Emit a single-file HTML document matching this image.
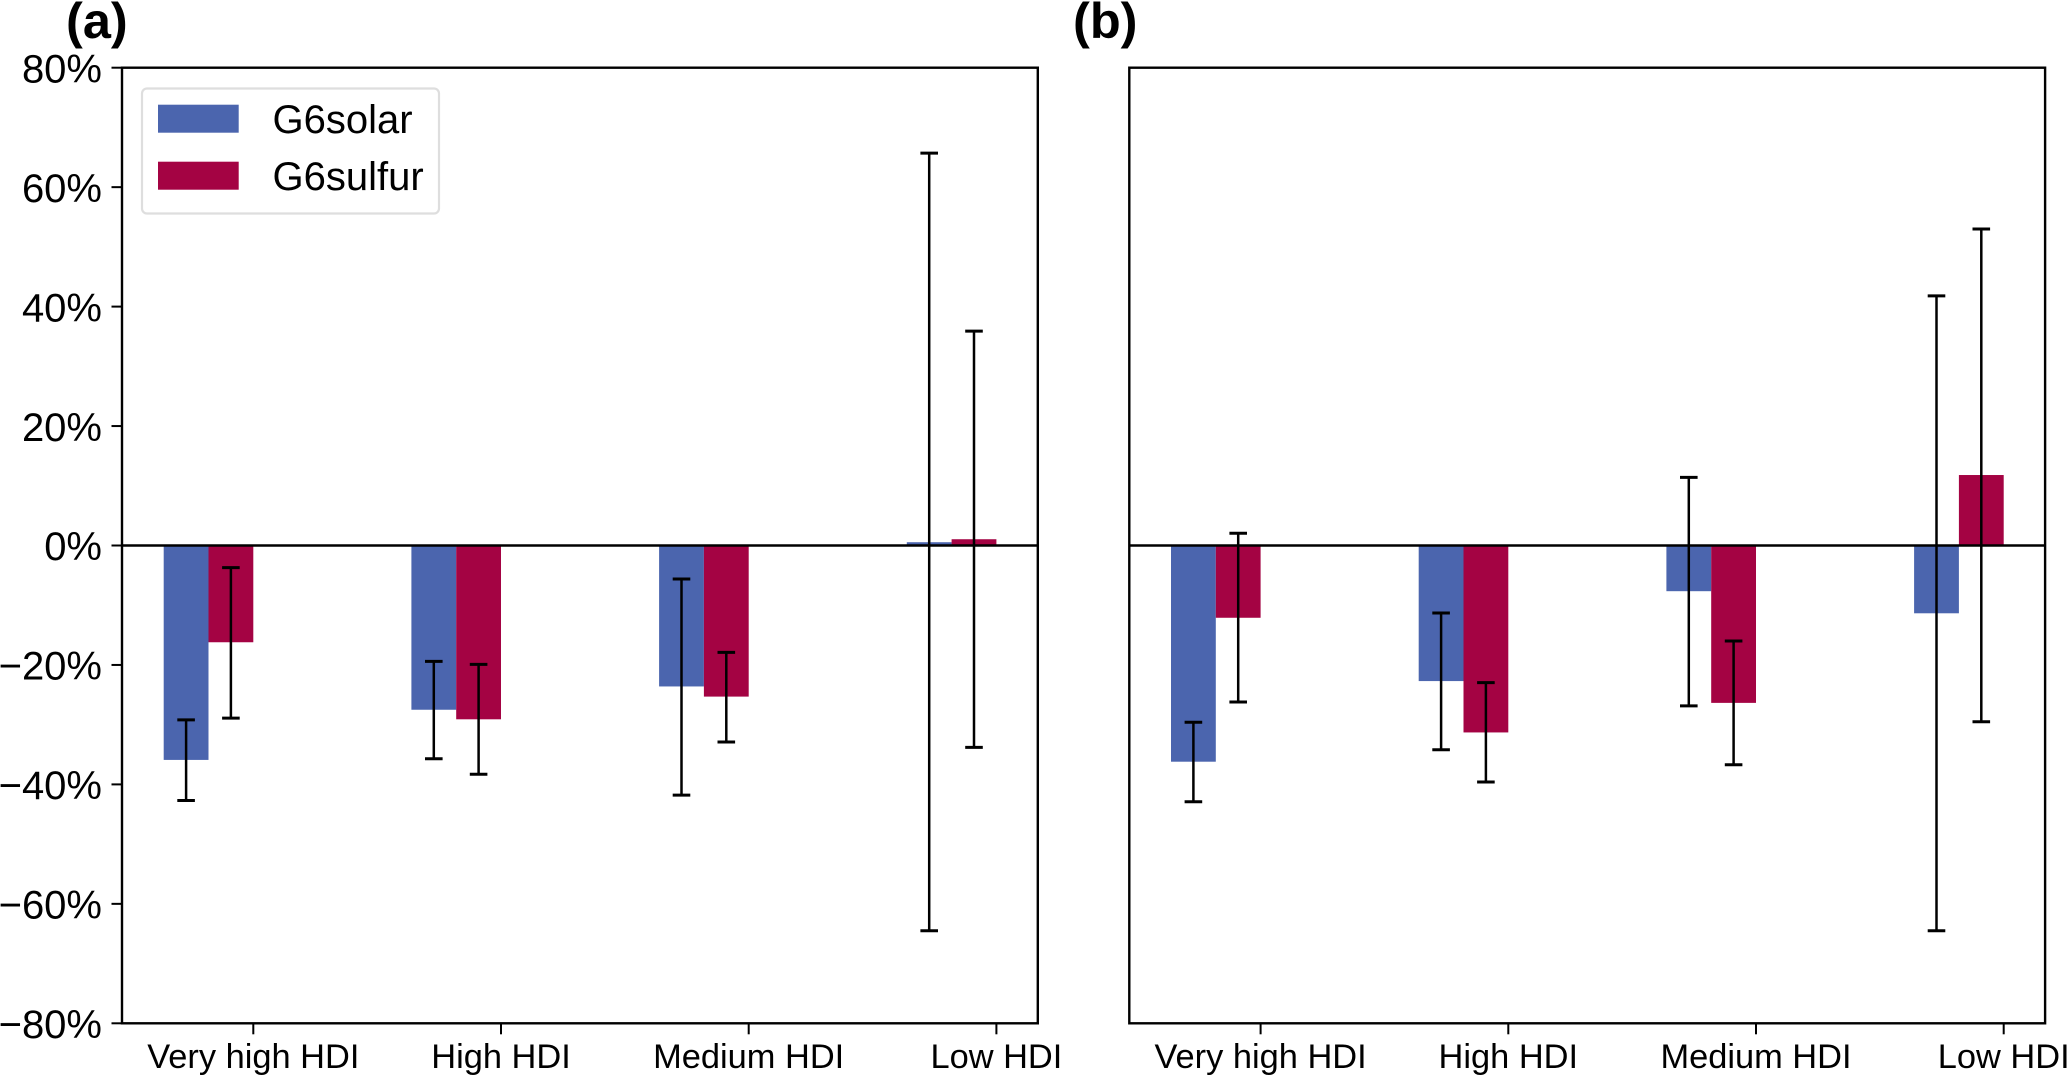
<!DOCTYPE html>
<html lang="en">
<head>
<meta charset="utf-8">
<title>G6solar and G6sulfur by HDI group</title>
<style>
  html, body { margin: 0; padding: 0; background: #fff; }
  body { width: 2067px; height: 1076px; overflow: hidden; }
  svg { display: block; font-family: "Liberation Sans", Arial, sans-serif; }
</style>
</head>
<body>
<svg id="chart" xmlns="http://www.w3.org/2000/svg" width="2067" height="1076" viewBox="0 0 2067 1076">
  <rect x="0" y="0" width="2067" height="1076" fill="#ffffff"/>
  <text x="66" y="38" font-size="50.5" font-weight="700" fill="#000">(a)</text>
  <text x="1073" y="38" font-size="50.5" font-weight="700" fill="#000">(b)</text>
  <g id="panel-a"></g>
  <g id="panel-b"></g>
  <g>
    <rect x="142" y="88.5" width="297" height="125" rx="5" ry="5" fill="#ffffff" fill-opacity="0.9" stroke="#dedede" stroke-width="2.2"/>
    <rect x="158" y="104.7" width="80.7" height="28" fill="#4b65ae"/>
    <text x="272.5" y="133" font-size="40" fill="#000">G6solar</text>
    <rect x="158" y="161.7" width="80.7" height="28" fill="#a40343"/>
    <text x="272.5" y="190" font-size="40" fill="#000">G6sulfur</text>
  </g>
</svg>
<script>
const categories = ["Very high HDI", "High HDI", "Medium HDI", "Low HDI"];
const yTickValues = [80, 60, 40, 20, 0, -20, -40, -60, -80];

const panelASolar = [-35.9, -27.5, -23.6, 0.55];
const panelASolarLow = [-42.7, -35.7, -41.8, -64.5];
const panelASolarHigh = [-29.2, -19.4, -5.6, 65.7];
const panelASulfur = [-16.2, -29.1, -25.3, 1.05];
const panelASulfurLow = [-28.9, -38.3, -32.9, -33.8];
const panelASulfurHigh = [-3.7, -19.9, -17.9, 35.9];

const panelBSolar = [-36.2, -22.7, -7.65, -11.35];
const panelBSolarLow = [-42.9, -34.2, -26.85, -64.5];
const panelBSolarHigh = [-29.6, -11.3, 11.4, 41.8];
const panelBSulfur = [-12.1, -31.3, -26.35, 11.8];
const panelBSulfurLow = [-26.2, -39.6, -36.7, -29.5];
const panelBSulfurHigh = [2.05, -22.95, -16, 53];

const SVG_NS = "http://www.w3.org/2000/svg";
const TOP = 67.7, BOTTOM = 1023.3, AXIS_W = 915.8;
const BAR_W = 44.8;
const BLUE = "#4b65ae", RED = "#a40343";

function yScale(v) {
  return TOP + (80 - v) / 160 * (BOTTOM - TOP);
}
function xScale(left, i) {
  return left + 131.3 + 247.7 * i;
}
function make(tag, attrs, parent) {
  const el = document.createElementNS(SVG_NS, tag);
  for (const k in attrs) el.setAttribute(k, attrs[k]);
  parent.appendChild(el);
  return el;
}
function drawLine(parent, x1, y1, x2, y2, w) {
  return make("line", { x1: x1, y1: y1, x2: x2, y2: y2, stroke: "#000", "stroke-width": w }, parent);
}
function drawBar(parent, x, v, color) {
  const y0 = yScale(0), yv = yScale(v);
  return make("rect", { x: x, y: Math.min(y0, yv), width: BAR_W, height: Math.abs(yv - y0), fill: color }, parent);
}
function drawError(parent, cx, low, high) {
  const g = make("g", {}, parent);
  drawLine(g, cx, yScale(low), cx, yScale(high), 2.5);
  drawLine(g, cx - 8.8, yScale(low), cx + 8.8, yScale(low), 3);
  drawLine(g, cx - 8.8, yScale(high), cx + 8.8, yScale(high), 3);
  return g;
}

function drawPanel(id, left, showY, solar, solarLow, solarHigh, sulfur, sulfurLow, sulfurHigh) {
  const root = document.getElementById(id);
  categories.forEach(function (cat, i) {
    const t = xScale(left, i);
    const slug = cat.toLowerCase().replace(/ /g, "-");
    const b1 = drawBar(root, t - 2 * BAR_W, solar[i], BLUE);
    
    
    const b2 = drawBar(root, t - BAR_W, sulfur[i], RED);
    
    
  });

  const zero = drawLine(root, left, yScale(0), left + AXIS_W, yScale(0), 2.4);
  
  

  categories.forEach(function (cat, i) {
    const t = xScale(left, i);
    const slug = cat.toLowerCase().replace(/ /g, "-");
    const e1 = drawError(root, t - 1.5 * BAR_W, solarLow[i], solarHigh[i]);
    
    
    const e2 = drawError(root, t - 0.5 * BAR_W, sulfurLow[i], sulfurHigh[i]);
    
    

    const tick = drawLine(root, t, BOTTOM, t, BOTTOM + 11, 2);
    
    

    const label = make("text", { x: t, y: 1068, "font-size": 34.4, "text-anchor": "middle", fill: "#000" }, root);
    label.textContent = cat;
    
    
  });

  if (showY) {
    yTickValues.forEach(function (v) {
      const y = yScale(v);
      const tick = drawLine(root, left - 10.5, y, left, y, 2);
      
      

      const label = make("text", { x: left - 20, y: y + 14.7, "font-size": 40, "text-anchor": "end", fill: "#000" }, root);
      label.textContent = (v < 0 ? "\u2212" + Math.abs(v) : v) + "%";
      
      
    });
  }

  const frame = make("rect", { x: left, y: TOP, width: AXIS_W, height: BOTTOM - TOP, fill: "none", stroke: "#000", "stroke-width": 2.4 }, root);
  
  
}

drawPanel("panel-a", 122, true, panelASolar, panelASolarLow, panelASolarHigh, panelASulfur, panelASulfurLow, panelASulfurHigh);
drawPanel("panel-b", 1129.3, false, panelBSolar, panelBSolarLow, panelBSolarHigh, panelBSulfur, panelBSulfurLow, panelBSulfurHigh);
</script>
</body>
</html>
